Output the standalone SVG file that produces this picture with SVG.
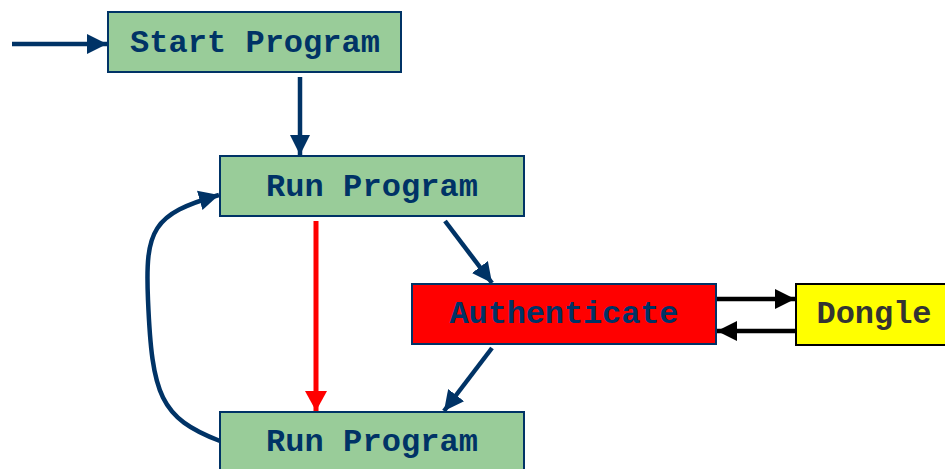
<svg xmlns="http://www.w3.org/2000/svg" width="945" height="469" viewBox="0 0 945 469">
<defs>
<style>
.box{stroke:#003366;stroke-width:2}
.green{fill:#99CC99}
.lbl{font-family:"Liberation Mono","Courier New",monospace;font-weight:bold;font-size:32px;fill:#003366;text-anchor:middle}
.blue{stroke:#003366;stroke-width:4.5;fill:none}
.red{stroke:#FF0000;stroke-width:5;fill:none}
.blk{stroke:#000000;stroke-width:4.5;fill:none}
</style>
<marker id="ab" markerUnits="userSpaceOnUse" markerWidth="22" markerHeight="22" viewBox="0 0 22 22" refX="20" refY="11" orient="auto"><path d="M0,1 L20,11 L0,21 z" fill="#003366"/></marker>
<marker id="ar" markerUnits="userSpaceOnUse" markerWidth="22" markerHeight="22" viewBox="0 0 22 22" refX="20" refY="11" orient="auto"><path d="M0,0 L20,11 L0,22 z" fill="#FF0000"/></marker>
<marker id="ak" markerUnits="userSpaceOnUse" markerWidth="22" markerHeight="22" viewBox="0 0 22 22" refX="20" refY="11" orient="auto"><path d="M0,1 L20,11 L0,21 z" fill="#000000"/></marker>
</defs>
<g id="connectors">
<line class="blue" x1="12" y1="44" x2="107" y2="44" marker-end="url(#ab)"/>
<line class="blue" x1="300" y1="77" x2="300" y2="155" marker-end="url(#ab)"/>
<line class="blue" x1="445" y1="221" x2="492" y2="283" marker-end="url(#ab)"/>
<line class="red" x1="316" y1="221" x2="316" y2="411" marker-end="url(#ar)"/>
<line class="blue" x1="492" y1="348" x2="444" y2="411" marker-end="url(#ab)"/>
<path class="blue" d="M220,441 C160,418 152,395 148,300 C145,230 152,214 219,195" marker-end="url(#ab)"/>
<line class="blk" x1="717" y1="299" x2="795" y2="299" marker-end="url(#ak)"/>
<line class="blk" x1="796" y1="331" x2="717" y2="331" marker-end="url(#ak)"/>
</g>
<g id="start">
<rect class="box green" x="108" y="12" width="293" height="60"/>
<text class="lbl" x="255" y="52" textLength="250" lengthAdjust="spacing">Start Program</text>
</g>
<g id="run1">
<rect class="box green" x="220" y="156" width="304" height="60"/>
<text class="lbl" x="372" y="196" textLength="212" lengthAdjust="spacing">Run Program</text>
</g>
<g id="auth">
<rect class="box" fill="#FF0000" x="412" y="284" width="304" height="60"/>
<text class="lbl" x="564" y="323" textLength="229" lengthAdjust="spacing">Authenticate</text>
</g>
<g id="dongle">
<rect x="796" y="284" width="152" height="61" fill="#FFFF00" stroke="#000000" stroke-width="2"/>
<text class="lbl" x="874" y="323" textLength="115" lengthAdjust="spacing" style="fill:#333333">Dongle</text>
</g>
<g id="run2">
<rect class="box green" x="220" y="412" width="304" height="60"/>
<text class="lbl" x="372" y="451" textLength="212" lengthAdjust="spacing">Run Program</text>
</g>
</svg>
